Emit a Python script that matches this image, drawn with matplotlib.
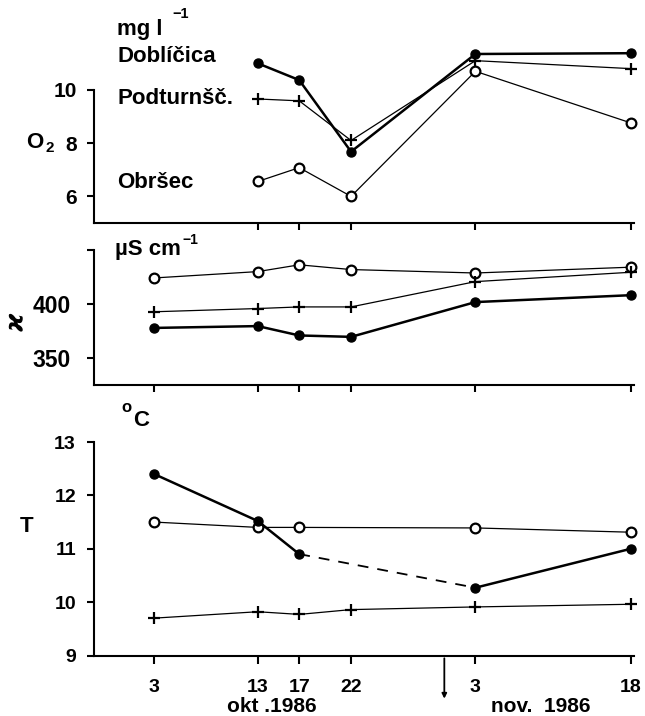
import matplotlib.pyplot as plt

plt.rcParams["font.family"] = ["Liberation Sans", "DejaVu Sans"]
plt.rcParams["font.weight"] = "bold"

# day numbers (okt 1986 -> day, nov 1986 -> 31 + day)
days = [3, 13, 17, 22, 34, 49]
tick_labels = ["3", "13", "17", "22", "3", "18"]

# O2, mg/l (no sample on 3 okt)
o2_days = [13, 17, 22, 34, 49]
o2_dob = [11.0, 10.37, 7.68, 11.35, 11.38]
o2_pod = [9.66, 9.59, 8.1, 11.1, 10.8]
o2_obr = [6.56, 7.08, 6.0, 10.7, 8.76]

# conductivity, uS/cm
k_dob = [378, 379.7, 371, 369.7, 402, 408.4]
k_pod = [393, 396, 397.5, 397.5, 421, 429.7]
k_obr = [424.4, 430.3, 436.6, 432.2, 429, 434.4]

# temperature, C
t_dob_days = [3, 13, 17, 34, 49]
t_dob = [12.40, 11.52, 10.90, 10.27, 11.0]
t_pod = [9.70, 9.82, 9.77, 9.86, 9.91, 9.96]
t_obr_days = [3, 13, 17, 34, 49]
t_obr = [11.50, 11.40, 11.40, 11.39, 11.31]

W, H = 645, 716
fig = plt.figure(figsize=(W / 100, H / 100), dpi=100)


def px(x, y):
    return x / W, 1 - y / H


def make_ax(top, bottom):
    l, t = px(94, top)
    _, b = px(94, bottom)
    ax = fig.add_axes([l, b, (634 - 94) / W, t - b])
    ax.set_xlim(-2.8, 49.3)
    for s in ["top", "right"]:
        ax.spines[s].set_visible(False)
    for s in ["left", "bottom"]:
        ax.spines[s].set_linewidth(1.5)
    ax.tick_params(width=1.5, length=5, labelsize=14)
    return ax


dob = dict(color="k", lw=1.8, marker="o", ms=6.5, clip_on=False)
pod = dict(color="k", lw=0.9, marker="+", ms=9, mew=1.6, clip_on=False)
obr = dict(color="k", lw=0.9, marker="o", ms=7, mfc="white", mew=1.6, clip_on=False)

# panel 1: O2
ax1 = make_ax(36.7, 223)
ax1.set_ylim(5, 12)
ax1.plot(o2_days, o2_pod, **pod)
ax1.plot(o2_days, o2_obr, **obr)
ax1.plot(o2_days, o2_dob, **dob)
ax1.set_yticks([6, 8, 10])
ax1.spines["left"].set_bounds(5, 10)
ax1.set_xticks(o2_days)
ax1.tick_params(axis="x", labelbottom=False)
ax1.tick_params(axis="y", pad=7, labelsize=15)

# panel 2: conductivity
ax2 = make_ax(245, 385)
ax2.set_ylim(325, 455)
ax2.plot(days, k_obr, **obr)
ax2.plot(days, k_pod, **pod)
ax2.plot(days, k_dob, **dob)
ax2.set_yticks([350, 400, 450])
ax2.set_yticklabels(["350", "400", ""])
ax2.spines["left"].set_bounds(325, 450)
ax2.set_xticks(days)
ax2.tick_params(axis="x", labelbottom=False)
ax2.tick_params(axis="y", pad=12, labelsize=16.5)

# panel 3: temperature
ax3 = make_ax(426, 655.5)
ax3.set_ylim(9, 13.3)
ax3.plot(days, t_pod, **pod)
ax3.plot(t_obr_days, t_obr, **obr)
ax3.plot(t_dob_days[:3], t_dob[:3], **dob)
ax3.plot(t_dob_days[3:], t_dob[3:], **dob)
ax3.plot(t_dob_days[2:4], t_dob[2:4], color="k", lw=1.3, ls=(0, (6, 5)))
ax3.set_yticks([9, 10, 11, 12, 13])
ax3.spines["left"].set_bounds(9, 13)
ax3.set_xticks(days)
ax3.set_xticklabels(tick_labels)
ax3.tick_params(axis="x", pad=11, length=6)
ax3.tick_params(axis="y", pad=8)

# month break marker
ax3.annotate("", xy=(31, -0.2), xytext=(31, 0),
             xycoords=ax3.get_xaxis_transform(), textcoords=ax3.get_xaxis_transform(),
             arrowprops=dict(arrowstyle="-|>", lw=1.3, color="k", mutation_scale=7),
             annotation_clip=False)

fs = 16
fig.text(*px(117, 30), "mg l", fontsize=fs, va="center")
fig.text(*px(172, 14), "\u22121", fontsize=10.5, va="center")
fig.text(*px(117, 57), "Doblíčica", fontsize=fs, va="center")
fig.text(*px(117, 98), "Podturnšč.", fontsize=fs, va="center")
fig.text(*px(117, 183), "Obršec", fontsize=fs, va="center")
fig.text(*px(26, 143), "O", fontsize=fs, va="center")
fig.text(*px(46, 148), "2", fontsize=11, va="center")

fig.text(*px(115, 250), "\u00b5S cm", fontsize=16, va="center")
fig.text(*px(182, 240), "\u22121", fontsize=10, va="center")
fig.text(*px(17, 322), r"$\varkappa$", fontsize=18, va="center", ha="center", rotation=90)

fig.text(*px(121, 408), "o", fontsize=12, va="center")
fig.text(*px(133, 420), "C", fontsize=fs, va="center")
fig.text(*px(20, 527), "T", fontsize=fs, va="center")

fig.text(*px(272, 706), "okt .1986", fontsize=15, va="center", ha="center")
fig.text(*px(541, 706), "nov.  1986", fontsize=15, va="center", ha="center")

fig.savefig("out.png", dpi=100)
